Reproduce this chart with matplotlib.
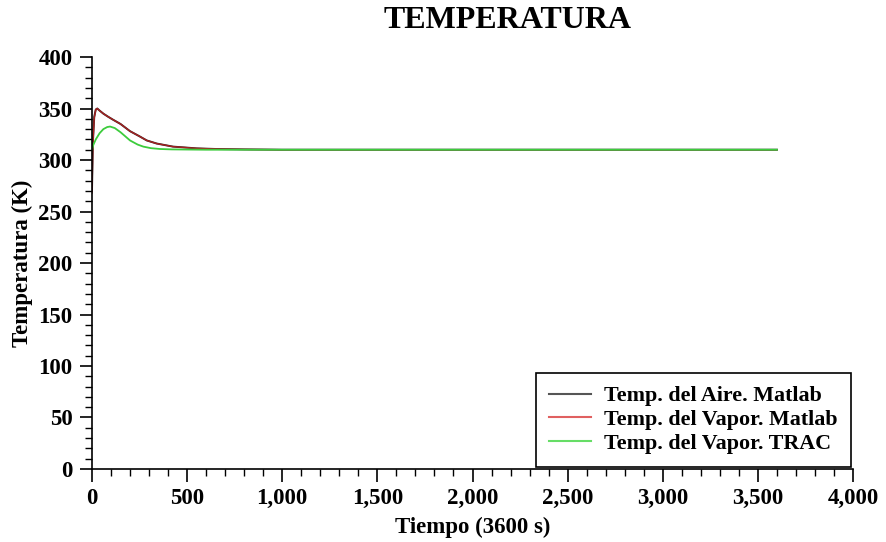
import matplotlib.pyplot as plt
from matplotlib.ticker import MultipleLocator, FuncFormatter

# temperature curves (time in s, temperature in K)
t_matlab = [0, 5, 12, 20, 28, 40, 60, 85, 112, 150, 200, 250, 288, 340, 426, 500, 550, 650, 800, 1000, 2000, 3000, 3600]
T_aire = [270, 318, 342, 349, 350, 348, 345, 342, 339, 335, 328, 323, 319, 316, 313, 312, 311.3, 310.7, 310.3, 310, 310, 310, 310]
T_vapor = [268, 316, 341, 349, 350, 348, 345, 342, 339, 335, 328, 323, 319, 316, 313, 312, 311.3, 310.7, 310.3, 310, 310, 310, 310]

t_trac = [0, 7, 20, 40, 60, 80, 95, 120, 150, 200, 240, 270, 310, 357, 420, 600, 1000, 2000, 3000, 3600]
T_trac = [310, 314.6, 320, 326, 330, 332, 332.5, 331, 327, 319, 315, 313, 311.5, 310.7, 310.3, 310, 310, 310, 310, 310]

plt.rcParams['font.family'] = ['Liberation Serif', 'DejaVu Serif']
plt.rcParams['font.weight'] = 'bold'

fig = plt.figure(figsize=(8.86, 5.42), dpi=100)
ax = fig.add_axes([0.1038, 0.1347, 0.859, 0.7601])

ax.plot(t_matlab, T_aire, color='#2a2a2a', lw=1.4, label='Temp. del Aire. Matlab')
ax.plot(t_matlab, T_vapor, color='#a82020', lw=1.0, label='Temp. del Vapor. Matlab')
ax.plot(t_trac, T_trac, color='#3ccc3c', lw=1.3, label='Temp. del Vapor. TRAC')

ax.set_xlim(0, 4000)
ax.set_ylim(0, 400)
ax.spines['top'].set_visible(False)
ax.spines['right'].set_visible(False)
for s in ('left', 'bottom'):
    ax.spines[s].set_linewidth(1.2)

ax.xaxis.set_major_locator(MultipleLocator(500))
ax.xaxis.set_minor_locator(MultipleLocator(100))
ax.yaxis.set_major_locator(MultipleLocator(50))
ax.yaxis.set_minor_locator(MultipleLocator(10))
ax.xaxis.set_major_formatter(FuncFormatter(lambda v, p: f'{int(v):,}'))
ax.tick_params(which='major', direction='out', length=9, width=1.2, labelsize=16.5, pad=5)
ax.tick_params(which='minor', direction='out', length=5, width=1.0)
for lab in ax.get_xticklabels() + ax.get_yticklabels():
    lab.set_fontweight('bold')

ax.set_xlabel('Tiempo (3600 s)', fontsize=16.5, fontweight='bold', labelpad=5)
ax.set_ylabel('Temperatura (K)', fontsize=16.5, fontweight='bold', labelpad=4)
fig.text(0.573, 0.962, 'TEMPERATURA', ha='center', va='center', fontsize=23, fontweight='bold')

leg = ax.legend(loc='lower right', fancybox=False, edgecolor='black', framealpha=1,
                prop={'weight': 'bold', 'size': 15.8}, handlelength=1.9, handletextpad=0.6,
                borderaxespad=0.1, labelspacing=0.15, borderpad=0.6)
leg.get_frame().set_linewidth(1.2)
for line, c in zip(leg.get_lines(), ['#555555', '#e06060', '#66dd66']):
    line.set_color(c)
    line.set_linewidth(1.5)

fig.savefig('out.png', dpi=100)
